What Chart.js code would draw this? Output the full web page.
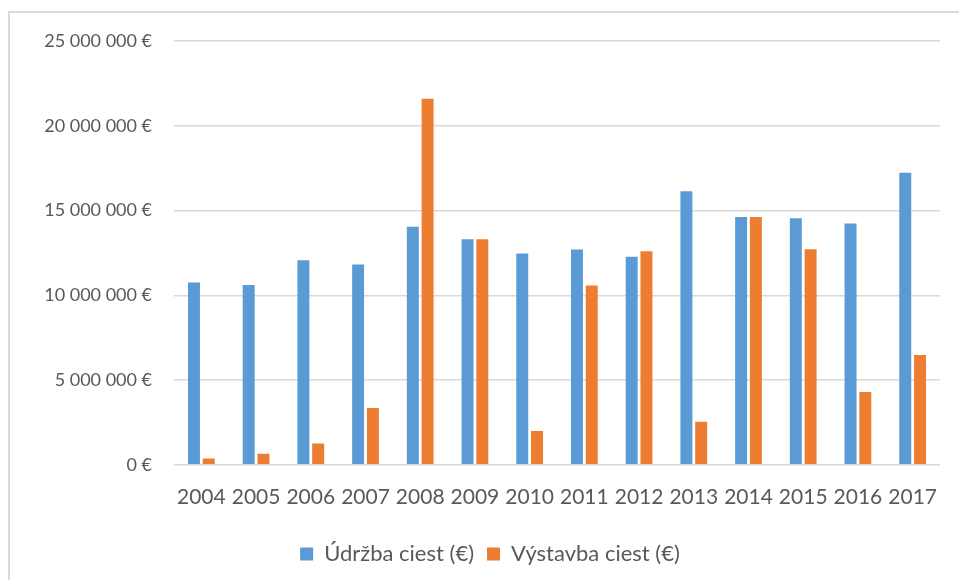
<!DOCTYPE html>
<html>
<head>
<meta charset="utf-8">
<script src="https://cdn.jsdelivr.net/npm/chart.js@4.4.0/dist/chart.umd.min.js"></script>
<style>
  html, body { margin: 0; padding: 0; background: #fff; }
  #wrap { position: relative; width: 959px; height: 580px; overflow: hidden; }
  #frame { position: absolute; left: 8px; top: 11px; width: 1000px; height: 1000px;
           border-left: 2px solid #dadada; border-top: 2px solid #dadada; }
  canvas { position: absolute; left: 0; top: 0; }
</style>
</head>
<body>
<div id="wrap">
  <div id="frame"></div>
  <canvas id="roadChart" width="959" height="580"></canvas>
</div>
<script>
const years = ['2004', '2005', '2006', '2007', '2008', '2009', '2010',
               '2011', '2012', '2013', '2014', '2015', '2016', '2017'];
const udrzba = [10760000, 10600000, 12070000, 11820000, 14040000, 13300000, 12470000,
                12700000, 12270000, 16130000, 14620000, 14540000, 14240000, 17230000];
const vystavba = [370000, 650000, 1260000, 3350000, 21590000, 13300000, 2000000,
                  10580000, 12600000, 2540000, 14620000, 12720000, 4290000, 6480000];
const yTicks = [0, 5000000, 10000000, 15000000, 20000000, 25000000];

const textColor = '#595959';
const formatEur = v => String(v).replace(/\B(?=(\d{3})+(?!\d))/g, ' ') + ' €';

// legend in the original sits a bit right of the canvas centre
const legendShift = {
    id: 'legendShift',
    beforeDraw(chart) { chart.legend.left = 40; }
};

const ctx = document.getElementById('roadChart').getContext('2d');
new Chart(ctx, {
    type: 'bar',
    data: {
        labels: years,
        datasets: [
            {
                label: 'Údržba ciest (€)',
                data: udrzba,
                backgroundColor: '#5B9BD5',
                categoryPercentage: 0.54,
                barPercentage: 0.81
            },
            {
                label: 'Výstavba ciest (€)',
                data: vystavba,
                backgroundColor: '#ED7D31',
                categoryPercentage: 0.54,
                barPercentage: 0.81
            }
        ]
    },
    options: {
        responsive: false,
        animation: false,
        layout: { padding: { left: 16, right: 19, top: 41, bottom: 5 } },
        plugins: {
            tooltip: { enabled: false },
            legend: {
                position: 'bottom',
                labels: {
                    color: textColor,
                    boxWidth: 13,
                    boxHeight: 13,
                    padding: 13,
                    font: { family: 'Lato', size: 22 }
                }
            }
        },
        scales: {
            x: {
                grid: { display: false, drawTicks: false },
                border: { display: false },
                ticks: {
                    color: textColor,
                    padding: 20,
                    maxRotation: 0,
                    font: { family: 'Lato', size: 21 }
                }
            },
            y: {
                min: 0,
                max: 25000000,
                afterFit: scale => { scale.width = 158; },
                afterBuildTicks: scale => { scale.ticks = yTicks.map(v => ({ value: v })); },
                grid: { color: '#d9d9d9', lineWidth: 1.5, drawTicks: false },
                border: { display: false },
                ticks: {
                    color: textColor,
                    padding: 22,
                    font: { family: 'Lato', size: 18 },
                    callback: v => formatEur(v)
                }
            }
        }
    },
    plugins: [legendShift]
});
</script>
</body>
</html>
